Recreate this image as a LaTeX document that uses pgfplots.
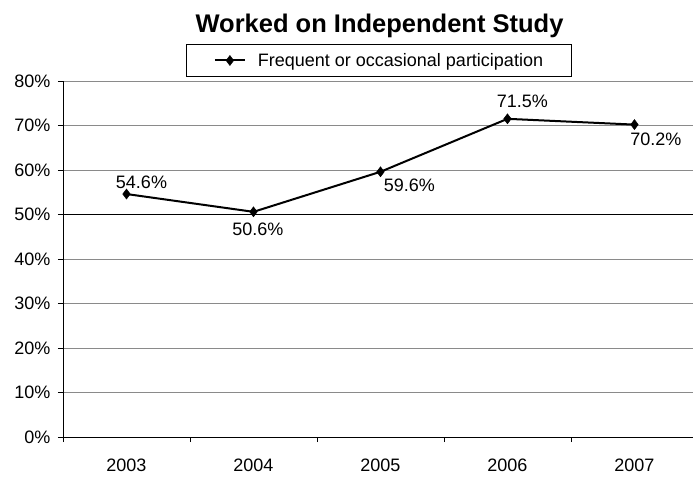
\documentclass[border=0pt]{standalone}
\usepackage{pgfplots}
\pgfplotsset{compat=1.18}
\usepackage{fontspec}
\setmainfont{Liberation Sans}
\definecolor{gridgray}{HTML}{8A8A8A}
\begin{document}
\begin{tikzpicture}
\useasboundingbox (-63pt,-42pt) rectangle (630pt,437pt);
\begin{axis}[
  scale only axis, width=630pt, height=356pt,
  xmin=-0.5, xmax=4.461, ymin=0, ymax=80,
  axis x line*=bottom, axis y line*=left,
  axis line style={black, line width=0.9pt},
  xtick={0,1,2,3,4}, xticklabels={2003,2004,2005,2006,2007},
  minor xtick={-0.5,0.5,1.5,2.5,3.5},
  ytick={0,10,20,30,40,60,70,80},
  extra y ticks={50},
  extra y tick style={grid style={black, line width=1pt}},
  yticklabel={\pgfmathprintnumber{\tick}\%},
  /pgf/number format/assume math mode=true,
  tick align=outside, major tick length=5pt, minor tick length=5pt,
  tick style={black, line width=0.9pt},
  major x tick style={draw=none},
  ymajorgrids, grid style={gridgray, line width=1pt},
  tick label style={font=\fontsize{18}{21}\selectfont},
  yticklabel style={xshift=-4pt},
  xticklabel style={yshift=-13pt},
  title={Worked on Independent Study},
  title style={at={(rel axis cs:0.5024,1.1376)}, anchor=base, yshift=-6pt, font=\bfseries\fontsize{25.5}{30}\selectfont},
  legend style={at={(rel axis cs:0.5008,1.0576)}, anchor=center, draw=black, line width=0.8pt,
    inner xsep=28pt, inner ysep=8.5pt, nodes={inner sep=0pt}, column sep=12pt,
    font=\fontsize{18}{21}\selectfont},
  legend image code/.code={\draw[mark repeat=2,mark phase=2] plot coordinates {(0pt,0pt) (15pt,0pt) (30pt,0pt)};},
]
\addplot[black, line width=2pt, mark=diamond*, mark size=5pt, mark options={solid, line width=0.5pt}]
  coordinates {(0,54.6) (1,50.6) (2,59.6) (3,71.5) (4,70.2)};
\addlegendentry{Frequent or occasional participation}
\begin{scope}[every node/.style={font=\fontsize{18}{21}\selectfont, inner sep=0pt}]
\node[xshift=15pt, yshift=12pt] at (axis cs:0,54.6) {54.6\%};
\node[xshift=4.5pt, yshift=-17pt] at (axis cs:1,50.6) {50.6\%};
\node[xshift=29pt, yshift=-13.7pt] at (axis cs:2,59.6) {59.6\%};
\node[xshift=15pt, yshift=17pt] at (axis cs:3,71.5) {71.5\%};
\node[xshift=21.5pt, yshift=-14.5pt] at (axis cs:4,70.2) {70.2\%};
\end{scope}
\end{axis}
\end{tikzpicture}
\end{document}
